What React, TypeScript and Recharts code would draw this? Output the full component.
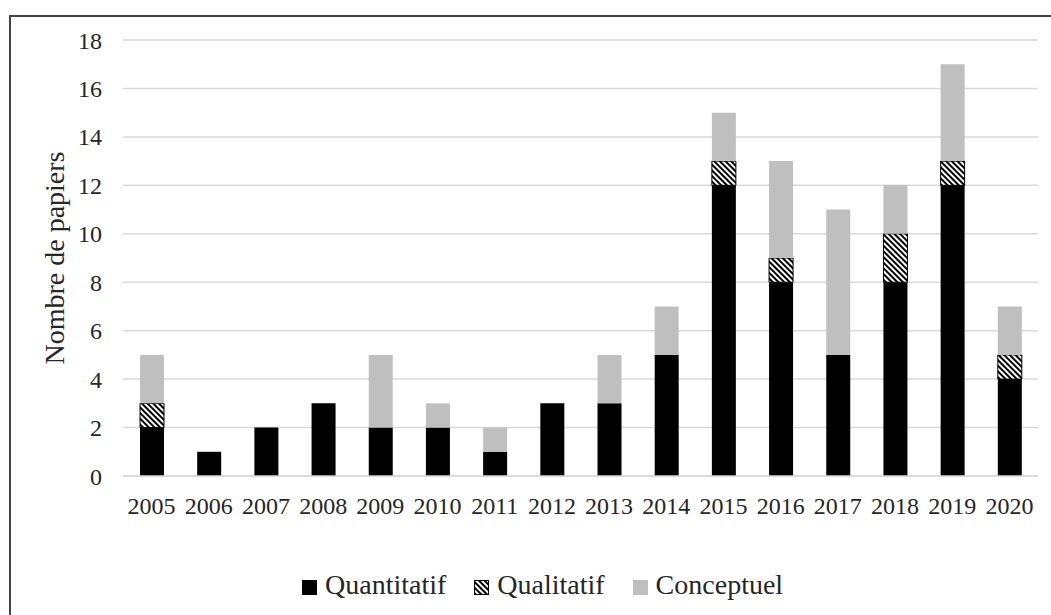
import { Bar, BarChart, CartesianGrid, XAxis, YAxis } from "recharts";

const years = ["2005", "2006", "2007", "2008", "2009", "2010", "2011", "2012", "2013", "2014", "2015", "2016", "2017", "2018", "2019", "2020"];
const quantitatif = [2, 1, 2, 3, 2, 2, 1, 3, 3, 5, 12, 8, 5, 8, 12, 4];
const qualitatif = [1, 0, 0, 0, 0, 0, 0, 0, 0, 0, 1, 1, 0, 2, 1, 1];
const conceptuel = [2, 0, 0, 0, 3, 1, 1, 0, 2, 2, 2, 4, 6, 2, 4, 2];
const yTicks = [0, 2, 4, 6, 8, 10, 12, 14, 16, 18];

const FONT = '"Liberation Serif", "Times New Roman", serif';
const TEXT = "#262626";
const GRAY = "#bfbfbf";

const data = years.map((year, i) => ({
  year,
  quantitatif: quantitatif[i],
  qualitatif: qualitatif[i],
  conceptuel: conceptuel[i],
}));

/** Légende maison : carré plein, carré hachuré, carré gris. */
function ChartLegend() {
  const item = { display: "flex", alignItems: "center", marginRight: 28 };
  const box = { width: 15, height: 15, marginRight: 8, marginTop: 4, boxSizing: "border-box" as const };
  return (
    <div
      style={{
        position: "absolute",
        left: 302,
        top: 569,
        display: "flex",
        fontFamily: FONT,
        fontSize: 28,
        lineHeight: "32px",
        color: TEXT,
        whiteSpace: "nowrap",
      }}
    >
      <span style={item}>
        <span style={{ ...box, background: "#000" }} />
        Quantitatif
      </span>
      <span style={item}>
        <svg width={15} height={15} style={{ ...box }}>
          <rect x={0.5} y={0.5} width={14} height={14} fill="url(#hatch)" stroke="#000" strokeWidth={1} />
        </svg>
        Qualitatif
      </span>
      <span style={{ ...item, marginRight: 0 }}>
        <span style={{ ...box, background: GRAY }} />
        Conceptuel
      </span>
    </div>
  );
}

export default function App() {
  return (
    <div style={{ position: "absolute", left: 0, top: 0, width: 1051, height: 615, background: "#fff", overflow: "hidden" }}>
      <div
        style={{
          position: "absolute",
          left: 9,
          top: 15,
          width: 1051,
          height: 615,
          borderLeft: "2px solid #444",
          borderTop: "2px solid #444",
        }}
      />
      <BarChart
        width={1051}
        height={615}
        data={data}
        margin={{ top: 40, right: 13, bottom: 109, left: 0 }}
        barSize={24}
        style={{ position: "absolute", left: 0, top: 0 }}
      >
        <defs>
          <pattern id="hatch" width={4} height={4} patternUnits="userSpaceOnUse" patternTransform="rotate(45)">
            <rect x={0} y={0} width={4} height={4} fill="#fff" />
            <rect x={0} y={0} width={4} height={2} fill="#000" />
          </pattern>
        </defs>
        <CartesianGrid stroke="#d9d9d9" strokeWidth={1.5} vertical={false} />
        <XAxis
          dataKey="year"
          tick={{ fill: TEXT, fontSize: 24, fontFamily: FONT }}
          tickLine={false}
          tickSize={6}
          tickMargin={15}
          axisLine={{ stroke: "#d9d9d9", strokeWidth: 1.5 }}
          interval={0}
        />
        <YAxis
          domain={[0, 18]}
          ticks={yTicks}
          width={123}
          tick={{ fill: TEXT, fontSize: 24, fontFamily: FONT }}
          tickLine={false}
          tickSize={6}
          tickMargin={15}
          axisLine={false}
          label={{
            value: "Nombre de papiers",
            angle: -90,
            position: "center",
            dx: -7,
            style: { fill: TEXT, fontSize: 28, fontFamily: FONT, textAnchor: "middle" },
          }}
        />
        <Bar dataKey="quantitatif" stackId="a" fill="#000" isAnimationActive={false} />
        <Bar dataKey="qualitatif" stackId="a" fill="url(#hatch)" stroke="#000" strokeWidth={1} isAnimationActive={false} />
        <Bar dataKey="conceptuel" stackId="a" fill={GRAY} isAnimationActive={false} />
      </BarChart>
      <ChartLegend />
    </div>
  );
}
